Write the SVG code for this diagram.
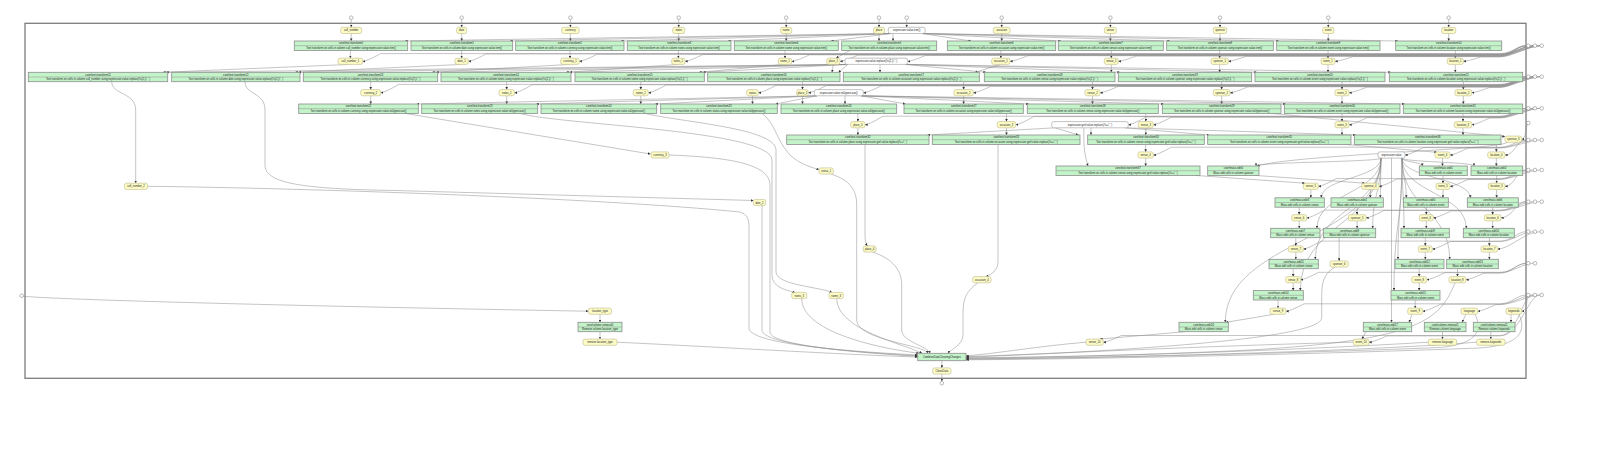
<svg xmlns="http://www.w3.org/2000/svg" width="1613" height="459" viewBox="0 0 1613 459">
<style>
text{font-family:"Liberation Sans",Arial,sans-serif;font-size:2.7px;text-anchor:middle;fill:#1a1a1a}
.b{fill:#c3f3c9;stroke:#8e8e8e;stroke-width:0.8}
.d{stroke:#8e8e8e;stroke-width:0.5;fill:none}
.y{fill:#fdfcc6;stroke:#bdb889;stroke-width:0.6}
.w{fill:#ffffff;stroke:#9a9a9a;stroke-width:0.6}
.c{fill:#fff;stroke:#777;stroke-width:0.5}
.f{fill:none;stroke:#7c7c7c;stroke-width:1.3}
#edges path{fill:none;stroke:#8a8a8a;stroke-width:0.5;marker-end:url(#a)}
</style>
<defs>
<marker id="a" viewBox="0 0 10 10" refX="10" refY="5" markerWidth="2.6" markerHeight="2.6" markerUnits="userSpaceOnUse" orient="auto"><path d="M0 0L10 5L0 10z" fill="#333"/></marker>
</defs>
<rect width="1613" height="459" fill="#fff"/>
<rect class="f" x="25" y="23.3" width="1501" height="355"/>

<g id="edges">
<!-- top ports to inputs -->
<path d="M351.2 19.5V27.3"/><path d="M461.7 19.5V27.3"/><path d="M570.4 19.5V27.3"/><path d="M678.7 19.5V27.3"/><path d="M786.2 19.5V27.3"/><path d="M879 19.5V27.3"/><path d="M906.7 19.5V27.3"/><path d="M1001.7 19.5V27.3"/><path d="M1110.4 19.5V27.3"/><path d="M1220 19.5V27.3"/><path d="M1328.3 19.5V27.3"/><path d="M1448.7 19.5V27.3"/>
<!-- inputs to row1 -->
<path d="M351.2 33.5V41"/><path d="M461.7 33.5V41"/><path d="M570.4 33.5V41"/><path d="M678.7 33.5V41"/><path d="M786.2 33.5V41"/><path d="M879 33.5V41"/><path d="M1001.7 33.5V41"/><path d="M1110.4 33.5V41"/><path d="M1220 33.5V41"/><path d="M1328.3 33.5V41"/><path d="M1448.7 33.5V41"/>
<!-- p_trim to row1 -->
<path d="M891 33.5L405 41"/><path d="M891 33.5L510 41"/><path d="M891 33.5L621 41"/><path d="M891 33.5L728 41"/><path d="M891 33.5L831 41"/><path d="M893 33.5V41"/><path d="M922 33.5L971 41"/><path d="M922 33.5L1061 41"/><path d="M922 33.5L1170 41"/><path d="M922 33.5L1279 41"/><path d="M922 33.5L1398 41"/>
<!-- row1 to data -->
<path d="M350.35 50.4V58.2"/><path d="M461.65 50.4V58.2"/><path d="M570 50.4V58.2"/><path d="M678.35 50.4V58.2"/><path d="M785 50.4V58.2"/><path d="M850 50.4L836 58.2"/><path d="M1000.85 50.4V58.2"/><path d="M1111.3 50.4V58.2"/><path d="M1219.65 50.4V58.2"/><path d="M1328 50.4V58.2"/><path d="M1455.3 50.4V58.2"/>
<!-- data1 to row2 -->
<path d="M350.35 64.4L163 72.3"/><path d="M461.65 64.4L295 72.3"/><path d="M570 64.4L432 72.3"/><path d="M678.35 64.4L566 72.3"/><path d="M785 64.4L699 72.3"/><path d="M833.35 64.4L832 72.3"/><path d="M1000.85 64.4L975 72.3"/><path d="M1111.3 64.4V72.3"/><path d="M1219.65 64.4V72.3"/><path d="M1328 64.4V72.3"/><path d="M1455.3 64.4V72.3"/>
<!-- p_replace to row2 -->
<path d="M848 64.4L166 72.3"/><path d="M848 64.4L298.5 72.3"/><path d="M848 64.4L436 72.3"/><path d="M848 64.4L569.5 72.3"/><path d="M848 64.4L703 72.3"/><path d="M848 64.4L838.5 72.3"/><path d="M880 64.4V72.3"/><path d="M905 64.4L986 72.3"/><path d="M905 64.4L1120 72.3"/><path d="M905 64.4L1257 72.3"/><path d="M905 64.4L1391 72.3"/>
<!-- row2 to data -->
<path d="M111.7 81.7C111.7 95 135.7 92 135.7 110V183.2"/>
<path d="M245 81.7C245 95 265 92 265 110V165C265 183 300 189 395 190.5L753.5 200.5"/>
<path d="M370.7 81.7V89.6"/><path d="M506.7 81.7V89.6"/><path d="M640.8 81.7V89.6"/><path d="M802.5 81.7V89.6"/><path d="M963.65 81.7V89.6"/><path d="M1092.5 81.7V89.6"/><path d="M1221.65 81.7V89.6"/><path d="M1342 81.7V89.6"/><path d="M1463.35 81.7V89.6"/>
<!-- data2 to row3 -->
<path d="M370.7 95.8V104"/><path d="M506.7 95.8V104"/><path d="M640.8 95.8V104"/><path d="M752.5 95.8V104"/><path d="M802.5 95.8V104"/><path d="M963.65 95.8V104"/><path d="M1092.5 95.8V104"/><path d="M1221.65 95.8V104"/><path d="M1342 95.8V104"/><path d="M1463.35 95.8V104"/>
<!-- p_upper to row3 -->
<path d="M817 95.8L416.8 104"/><path d="M817 95.8L536.2 104"/><path d="M817 95.8L655.2 104"/><path d="M817 95.8L775.8 104"/><path d="M845 95.8V104"/><path d="M861 95.8L905.5 104"/><path d="M861 95.8L1028.8 104"/><path d="M861 95.8L1163.8 104"/><path d="M861 95.8L1285.8 104"/><path d="M861 95.8L1404.8 104"/>
<!-- row3 to data -->
<path d="M405 113.4L650.5 154"/>
<path d="M520 113.4C560 125 772 130 772 160V275C772 287 785 290 795 292.4"/>
<path d="M645 113.4C680 122 776 128 776 150V272C776 285 820 287 832 292.4"/>
<path d="M761.7 113.4C775 122 776 140 790 155C800 164 810 167 819 169.5"/>
<path d="M857.85 113.4V121.6"/><path d="M1006.5 113.4V121.6"/><path d="M1145.8 113.4V121.6"/><path d="M1342 113.4V121.6"/><path d="M1463 113.4V121.6"/>
<path d="M1272 113.4L1505 136.6"/>
<!-- data3 to row4 -->
<path d="M857.85 127.8V135"/><path d="M1006.5 127.8V135"/><path d="M1145.8 127.8V135"/><path d="M1342 127.8V135"/><path d="M1463 127.8V135"/>
<!-- p_grel -->
<path d="M1055 127.8L927.5 135"/><path d="M1055 127.8L1078.5 135"/><path d="M1091 127.8V135"/><path d="M1125 127.8L1209.2 135"/><path d="M1125 127.8L1355.8 135"/><path d="M1084 127.8C1083.5 140 1083.5 152 1088 166"/>
<!-- row4 to data -->
<path d="M865 144.4V235Q865 243 867.5 245.9"/>
<path d="M998 144.4V262Q998 272 986 276.6"/>
<path d="M1145.65 144.4V151.9"/>
<path d="M1345 144.4L1437 152.3"/>
<path d="M1496.35 144.4V151.9"/>
<!-- to M1 -->
<path d="M1145.65 158.1V166"/>
<path d="M1507 142.3C1500 150 1300 154 1257 166"/>
<path d="M1442.5 158.1V166"/><path d="M1496.35 158.1V166"/>
<!-- p_value to mass edits -->
<path d="M1381 158.1C1381 162 1256 162 1256 166"/>
<path d="M1402 158.1C1402 162 1422.3 162 1422.3 166"/>
<path d="M1402 158.1C1402 162 1474 162 1474 166"/>
<path d="M1381 158.1C1381 178 1321.3 178 1321.3 197.8"/>
<path d="M1381 158.1C1381 178 1380.3 178 1380.3 197.8"/>
<path d="M1402 158.1C1402 178 1406.3 178 1406.3 197.8"/>
<path d="M1402 158.1C1402 178 1470.3 178 1470.3 197.8"/>
<path d="M1381 158.1C1381 193 1317 193 1317 228.3"/>
<path d="M1381 158.1C1381 193 1372.7 193 1372.7 228.3"/>
<path d="M1402 158.1C1402 193 1404 193 1404 228.3"/>
<path d="M1402 158.1C1402 193 1466.3 193 1466.3 228.3"/>
<path d="M1381 158.1C1381 209 1315.3 209 1315.3 259.3"/>
<path d="M1402 158.1C1402 209 1398 209 1398 259.3"/>
<path d="M1402 158.1C1402 209 1449.7 209 1449.7 259.3"/>
<path d="M1381 158.1C1381 224 1300.3 224 1300.3 290.6"/>
<path d="M1402 158.1C1402 224 1394 224 1394 290.6"/>
<path d="M1381 158.1C1381 240 1225.3 240 1225.3 322.3"/>
<path d="M1391.5 158.1C1391.5 240 1391.5 240 1391.5 322.3"/>
<!-- M1 to data -->
<path d="M1195 175.4L1305 183.2"/><path d="M1255 175.4L1365 183.2"/><path d="M1443 175.4V183.2"/><path d="M1496.65 175.4V183.2"/>
<!-- to M2 -->
<path d="M1310.8 189.4V197.8"/><path d="M1370.35 189.4V197.8"/><path d="M1443 189.4V197.8"/><path d="M1496.65 189.4V197.8"/>
<!-- M2 to data -->
<path d="M1299.2 207.2V214.7"/><path d="M1357.15 207.2V214.7"/><path d="M1426.3 207.2V214.7"/><path d="M1492.65 207.2V214.7"/>
<!-- to M3 -->
<path d="M1299.2 220.9V228.3"/><path d="M1357.15 220.9V228.3"/><path d="M1426.3 220.9V228.3"/><path d="M1492.65 220.9V228.3"/>
<!-- M3 to data -->
<path d="M1295.8 237.7V245.9"/><path d="M1339.15 237.7V260.9"/><path d="M1425.3 237.7V245.9"/><path d="M1489.35 237.7V245.9"/>
<!-- to M4 -->
<path d="M1295.8 252.1V259.3"/><path d="M1425.3 252.1V259.3"/><path d="M1489.35 252.1V259.3"/>
<!-- M4 to data -->
<path d="M1293.2 268.7V276.6"/><path d="M1419.2 268.7V276.6"/><path d="M1457.5 268.7V276.6"/>
<!-- to M5 -->
<path d="M1293.2 282.8V290.6"/><path d="M1419.2 282.8V290.6"/>
<!-- M5 to data -->
<path d="M1278 300V308.1"/><path d="M1415.2 300V308.1"/>
<!-- to M6 -->
<path d="M23.3 296.3C80 301 400 308 588.3 311.2"/>
<path d="M600 314.3V322.3"/>
<path d="M1274 314.3L1226 322.3"/><path d="M1412 314.3L1409 322.3"/><path d="M1466 314.3L1462 322.3"/><path d="M1511 314.3V322.3"/>
<!-- M6 to data -->
<path d="M600 331.7V339.1"/><path d="M1185 331.7L1100 339.1"/><path d="M1366 331.7L1362 339.1"/><path d="M1442.5 331.7V339.1"/><path d="M1490.85 331.7V339.1"/>
<!-- to final -->
<path d="M147.5 186.3C300 188 600 198 740 212Q749 214 749 226V328C749 345 860 352 917.7 355"/>
<path d="M762 205.6V330C762 346 870 353 917.7 355.7"/>
<path d="M669 155C720 157 770 162 770 185V332C770 347 880 354 917.7 356.3"/>
<path d="M617 342.2C700 346 850 355 917.7 357"/>
<path d="M801.7 298.6C801.7 330 870 347 919 353.3"/>
<path d="M836.7 298.6C836.7 330 905 344 922 353.3"/>
<path d="M831 174.1C850 180 856.7 190 856.7 205V320C856.7 340 925 345 928 353.3"/>
<path d="M873 252.1C890 258 901.7 268 901.7 285V330C901.7 342 928 346 930 353.3"/>
<path d="M978 282.8C965 292 963 300 963 315V335C963 345 950 350 948 353.3"/>
<path d="M1086 342.2C1040 346 1000 353 966 356"/>
<path d="M1353.3 342.2C1200 346 1050 354 966 356.6"/>
<path d="M1335 267.1C1322 275 1321.7 285 1321.7 300V318C1321.7 340 1100 352 966 357.2"/>
<path d="M1455 282.8C1440 320 1420 340 1250 350C1150 355 1050 357 966 357.8"/>
<path d="M1428.3 342.2C1300 350 1100 357 966 358.3"/>
<path d="M1476.7 342.2C1350 352 1100 358 966 358.8"/>
<path d="M1475 314.3C1482 328 1480 344 1440 347.5C1300 353 1100 358 966 359.3"/>
<path d="M1519 314.3C1526 330 1522 345 1480 348C1320 354 1100 359 966 359.8"/>
<path d="M941.85 360.7V367.9"/>
<path d="M941.85 374.1V381.3"/>
<!-- right ports band A -->
<path d="M1526.5 45.7C1516.5 45.7 1512 53.6 1500 53.6H380.7Q366.7 61.3 362.7 61.3"/>
<path d="M1533.2 45.7C1523 45.7 1512 53.9 1500 53.9H486.3Q472.3 61.3 468.3 61.3"/>
<path d="M1539.9 45.7C1530 45.7 1512 54.2 1500 54.2H597.3Q583.3 61.3 579.3 61.3"/>
<path d="M1526.5 45.7C1516.5 45.7 1512 54.5 1500 54.5H703Q689 61.3 685 61.3"/>
<path d="M1533.2 45.7C1523 45.7 1512 54.8 1500 54.8H809.7Q795.7 61.3 791.7 61.3"/>
<path d="M1539.9 45.7C1530 45.7 1512 55.1 1500 55.1H858Q844 61.3 840 61.3"/>
<path d="M1526.5 45.7C1516.5 45.7 1512 55.4 1500 55.4H925.7Q911.7 61.3 907.7 61.3"/>
<path d="M1533.2 45.7C1523 45.7 1512 55.7 1500 55.7H1028Q1014 61.3 1010 61.3"/>
<path d="M1539.9 45.7C1530 45.7 1512 56 1500 56H1136.3Q1122.3 61.3 1118.3 61.3"/>
<path d="M1526.5 45.7C1516.5 45.7 1512 56.3 1500 56.3H1246.3Q1232.3 61.3 1228.3 61.3"/>
<path d="M1533.2 45.7C1523 45.7 1512 56.6 1500 56.6H1353Q1339 61.3 1335 61.3"/>
<path d="M1539.9 45.7C1530 45.7 1512 56.9 1500 56.9H1481.3Q1467.3 61.3 1463.3 61.3"/>
<!-- band B -->
<path d="M1526.5 76.7C1516.5 76.7 1512 84.4 1500 84.4H398.7Q384.7 92.7 380.7 92.7"/>
<path d="M1533.2 76.7C1523 76.7 1512 84.7 1500 84.7H532.4Q518.4 92.7 514.4 92.7"/>
<path d="M1539.9 76.7C1530 76.7 1512 85 1500 85H666.3Q652.3 92.7 648.3 92.7"/>
<path d="M1526.5 76.7C1516.5 76.7 1512 85.3 1500 85.3H776.3Q762.3 92.7 758.3 92.7"/>
<path d="M1533.2 76.7C1523 76.7 1512 85.6 1500 85.6H826.3Q812.3 92.7 808.3 92.7"/>
<path d="M1539.9 76.7C1530 76.7 1512 85.9 1500 85.9H881.3Q867.3 92.7 863.3 92.7"/>
<path d="M1526.5 76.7C1516.5 76.7 1512 86.2 1500 86.2H991.3Q977.3 92.7 973.3 92.7"/>
<path d="M1533.2 76.7C1523 76.7 1512 86.5 1500 86.5H1118Q1104 92.7 1100 92.7"/>
<path d="M1539.9 76.7C1530 76.7 1512 86.8 1500 86.8H1248Q1234 92.7 1230 92.7"/>
<path d="M1526.5 76.7C1516.5 76.7 1512 87.1 1500 87.1H1367Q1353 92.7 1349 92.7"/>
<path d="M1533.2 76.7C1523 76.7 1512 87.4 1500 87.4H1489.7Q1475.7 92.7 1471.7 92.7"/>
<!-- band C -->
<path d="M1526.5 108.3C1516.5 108.3 1512 116.2 1500 116.2H883Q869 124.7 865 124.7"/>
<path d="M1533.2 108.3C1523 108.3 1512 116.55 1500 116.55H1033.7Q1019.7 124.7 1015.7 124.7"/>
<path d="M1539.9 108.3C1530 108.3 1512 116.9 1500 116.9H1146.3Q1132.3 124.7 1128.3 124.7"/>
<path d="M1526.5 108.3C1516.5 108.3 1512 117.25 1500 117.25H1171.3Q1157.3 124.7 1153.3 124.7"/>
<path d="M1533.2 108.3C1523 108.3 1512 117.6 1500 117.6H1367Q1353 124.7 1349 124.7"/>
<path d="M1539.9 108.3C1530 108.3 1512 117.95 1500 117.95H1489.7Q1475.7 124.7 1471.7 124.7"/>
<!-- band D -->
<path d="M1527 124.6Q1525.5 139.2 1521.7 139.2"/>
<!-- band E -->
<path d="M1526.5 140C1516.5 140 1512 147.2 1500 147.2H1171.3Q1157.3 155 1153.3 155"/>
<path d="M1533.2 140C1523 140 1512 147.6 1500 147.6H1423Q1409 155 1405 155"/>
<path d="M1539.9 140C1530 140 1512 148 1500 148H1468Q1454 155 1450 155"/>
<path d="M1526.5 140C1516 140 1515 155 1505 155"/>
<!-- band F -->
<path d="M1526.5 170C1516.5 170 1512 178.6 1500 178.6H1336.3Q1322.3 186.3 1318.3 186.3"/>
<path d="M1533.2 170C1523 170 1512 179 1500 179H1397Q1383 186.3 1379 186.3"/>
<path d="M1539.9 170C1530 170 1512 179.4 1500 179.4H1468Q1454 186.3 1450 186.3"/>
<path d="M1526.5 170C1516 170 1515 186.3 1505 186.3"/>
<!-- band G -->
<path d="M1526.5 201.7C1516.5 201.7 1512 210.1 1500 210.1H1324.7Q1310.7 217.8 1306.7 217.8"/>
<path d="M1533.2 201.7C1523 201.7 1512 210.5 1500 210.5H1384Q1370 217.8 1366 217.8"/>
<path d="M1539.9 201.7C1530 201.7 1512 210.9 1500 210.9H1451.3Q1437.3 217.8 1433.3 217.8"/>
<path d="M1526.5 201.7C1516 201.7 1512 217.8 1501 217.8"/>
<!-- band H -->
<path d="M1526.5 231.7C1516.5 231.7 1512 241.1 1500 241.1H1321.3Q1307.3 249 1303.3 249"/>
<path d="M1533.2 231.7C1523 231.7 1512 241.5 1500 241.5H1450.3Q1436.3 249 1432.3 249"/>
<path d="M1539.9 231.7C1525 231.7 1510 249 1497.7 249"/>
<!-- band I -->
<path d="M1526.5 263.3C1516.5 263.3 1512 272.3 1500 272.3H1318.7Q1304.7 279.7 1300.7 279.7"/>
<path d="M1533.2 263.3C1523 263.3 1512 272.7 1500 272.7H1444.7Q1430.7 279.7 1426.7 279.7"/>
<path d="M1526.5 263.3C1516.5 263.3 1512 273.1 1500 273.1H1484Q1470 279.7 1466 279.7"/>
<!-- band J -->
<path d="M1526.5 295C1516.5 295 1512 303.8 1500 303.8H1304Q1290 311.2 1286 311.2"/>
<path d="M1533.2 295C1523 295 1512 304.2 1500 304.2H1440.7Q1426.7 311.2 1422.7 311.2"/>
<path d="M1539.9 295C1530 295 1512 304.6 1500 304.6H1495.7Q1481.7 311.2 1477.7 311.2"/>
<path d="M1527 296.7C1527 305 1526 311.2 1521.7 311.2"/>
<path d="M1533.2 295C1522 295 1518 335.5 1500 335.5H1121.3Q1107.3 342.2 1103.3 342.2"/>
<path d="M1539.9 295C1528 295 1520 335.9 1500 335.9H1387Q1373 342.2 1369 342.2"/>
</g>

<g id="ports">
<circle class="c" cx="351.2" cy="17.7" r="1.8"/><circle class="c" cx="461.7" cy="17.7" r="1.8"/><circle class="c" cx="570.4" cy="17.7" r="1.8"/><circle class="c" cx="678.7" cy="17.7" r="1.8"/><circle class="c" cx="786.2" cy="17.7" r="1.8"/><circle class="c" cx="879" cy="17.7" r="1.8"/><circle class="c" cx="906.7" cy="17.7" r="1.8"/><circle class="c" cx="1001.7" cy="17.7" r="1.8"/><circle class="c" cx="1110.4" cy="17.7" r="1.8"/><circle class="c" cx="1220" cy="17.7" r="1.8"/><circle class="c" cx="1328.3" cy="17.7" r="1.8"/><circle class="c" cx="1448.7" cy="17.7" r="1.8"/>
<circle class="c" cx="21.7" cy="295.7" r="1.8"/>
<circle class="c" cx="941.85" cy="383.2" r="1.8"/>
<circle class="c" cx="1528.3" cy="45.7" r="1.8"/><circle class="c" cx="1535" cy="45.7" r="1.8"/><circle class="c" cx="1541.7" cy="45.7" r="1.8"/>
<circle class="c" cx="1528.3" cy="76.7" r="1.8"/><circle class="c" cx="1535" cy="76.7" r="1.8"/><circle class="c" cx="1541.7" cy="76.7" r="1.8"/>
<circle class="c" cx="1528.3" cy="108.3" r="1.8"/><circle class="c" cx="1535" cy="108.3" r="1.8"/><circle class="c" cx="1541.7" cy="108.3" r="1.8"/>
<circle class="c" cx="1528.3" cy="123" r="1.8"/>
<circle class="c" cx="1528.3" cy="140" r="1.8"/><circle class="c" cx="1535" cy="140" r="1.8"/><circle class="c" cx="1541.7" cy="140" r="1.8"/>
<circle class="c" cx="1528.3" cy="170" r="1.8"/><circle class="c" cx="1535" cy="170" r="1.8"/><circle class="c" cx="1541.7" cy="170" r="1.8"/>
<circle class="c" cx="1528.3" cy="201.7" r="1.8"/><circle class="c" cx="1535" cy="201.7" r="1.8"/><circle class="c" cx="1541.7" cy="201.7" r="1.8"/>
<circle class="c" cx="1528.3" cy="231.7" r="1.8"/><circle class="c" cx="1535" cy="231.7" r="1.8"/><circle class="c" cx="1541.7" cy="231.7" r="1.8"/>
<circle class="c" cx="1528.3" cy="263.3" r="1.8"/><circle class="c" cx="1535" cy="263.3" r="1.8"/>
<circle class="c" cx="1528.3" cy="295" r="1.8"/><circle class="c" cx="1535" cy="295" r="1.8"/><circle class="c" cx="1541.7" cy="295" r="1.8"/>
</g>

<g id="nodes">
<!-- inputs -->
<g id="in_call_number"><rect class="y" x="340.7" y="27.3" width="21" height="6.2" rx="2"/><text x="351.2" y="31.4">call_number</text></g>
<g id="in_date"><rect class="y" x="456.7" y="27.3" width="10" height="6.2" rx="2"/><text x="461.7" y="31.4">date</text></g>
<g id="in_currency"><rect class="y" x="561.7" y="27.3" width="17.4" height="6.2" rx="2"/><text x="570.4" y="31.4">currency</text></g>
<g id="in_notes"><rect class="y" x="672.7" y="27.3" width="12" height="6.2" rx="2"/><text x="678.7" y="31.4">notes</text></g>
<g id="in_name"><rect class="y" x="780.7" y="27.3" width="11" height="6.2" rx="2"/><text x="786.2" y="31.4">name</text></g>
<g id="in_place"><rect class="y" x="873.5" y="27.3" width="11" height="6.2" rx="2"/><text x="879" y="31.4">place</text></g>
<g id="p_trim"><rect class="w" x="888.3" y="27.3" width="36.8" height="6.2" rx="2"/><text x="906.7" y="31.4">expression:value.trim()</text></g>
<g id="in_occasion"><rect class="y" x="993.3" y="27.3" width="16.8" height="6.2" rx="2"/><text x="1001.7" y="31.4">occasion</text></g>
<g id="in_venue"><rect class="y" x="1104.4" y="27.3" width="12" height="6.2" rx="2"/><text x="1110.4" y="31.4">venue</text></g>
<g id="in_sponsor"><rect class="y" x="1213.3" y="27.3" width="13.4" height="6.2" rx="2"/><text x="1220" y="31.4">sponsor</text></g>
<g id="in_event"><rect class="y" x="1322.7" y="27.3" width="11.2" height="6.2" rx="2"/><text x="1328.3" y="31.4">event</text></g>
<g id="in_location"><rect class="y" x="1441.7" y="27.3" width="14" height="6.2" rx="2"/><text x="1448.7" y="31.4">location</text></g>

<!-- row1 boxes -->
<g id="t0"><rect class="b" x="294.3" y="41" width="113.4" height="9.4"/><path class="d" d="M294.3 45.7h113.4"/><text x="351" y="44.45">core/text-transform0</text><text x="351" y="49.15">Text transform on cells in column call_number using expression value.trim()</text></g>
<g id="t1"><rect class="b" x="411" y="41" width="101.7" height="9.4"/><path class="d" d="M411 45.7h101.7"/><text x="461.85" y="44.45">core/text-transform1</text><text x="461.85" y="49.15">Text transform on cells in column date using expression value.trim()</text></g>
<g id="t2"><rect class="b" x="515.7" y="41" width="108.3" height="9.4"/><path class="d" d="M515.7 45.7h108.3"/><text x="569.85" y="44.45">core/text-transform2</text><text x="569.85" y="49.15">Text transform on cells in column currency using expression value.trim()</text></g>
<g id="t3"><rect class="b" x="627.3" y="41" width="103.7" height="9.4"/><path class="d" d="M627.3 45.7h103.7"/><text x="679.15" y="44.45">core/text-transform3</text><text x="679.15" y="49.15">Text transform on cells in column notes using expression value.trim()</text></g>
<g id="t4"><rect class="b" x="734.3" y="41" width="104" height="9.4"/><path class="d" d="M734.3 45.7h104"/><text x="786.3" y="44.45">core/text-transform4</text><text x="786.3" y="49.15">Text transform on cells in column name using expression value.trim()</text></g>
<g id="t5"><rect class="b" x="841.7" y="41" width="95" height="9.4"/><path class="d" d="M841.7 45.7h95"/><text x="889.2" y="44.45">core/text-transform5</text><text x="889.2" y="49.15">Text transform on cells in column place using expression value.trim()</text></g>
<g id="t6"><rect class="b" x="947.3" y="41" width="108.4" height="9.4"/><path class="d" d="M947.3 45.7h108.4"/><text x="1001.5" y="44.45">core/text-transform6</text><text x="1001.5" y="49.15">Text transform on cells in column occasion using expression value.trim()</text></g>
<g id="t7"><rect class="b" x="1058.3" y="41" width="105" height="9.4"/><path class="d" d="M1058.3 45.7h105"/><text x="1110.8" y="44.45">core/text-transform7</text><text x="1110.8" y="49.15">Text transform on cells in column venue using expression value.trim()</text></g>
<g id="t8"><rect class="b" x="1166.7" y="41" width="106.6" height="9.4"/><path class="d" d="M1166.7 45.7h106.6"/><text x="1220" y="44.45">core/text-transform8</text><text x="1220" y="49.15">Text transform on cells in column sponsor using expression value.trim()</text></g>
<g id="t9"><rect class="b" x="1276.7" y="41" width="103.3" height="9.4"/><path class="d" d="M1276.7 45.7h103.3"/><text x="1328.35" y="44.45">core/text-transform9</text><text x="1328.35" y="49.15">Text transform on cells in column event using expression value.trim()</text></g>
<g id="t10"><rect class="b" x="1395.7" y="41" width="106" height="9.4"/><path class="d" d="M1395.7 45.7h106"/><text x="1448.7" y="44.45">core/text-transform10</text><text x="1448.7" y="49.15">Text transform on cells in column location using expression value.trim()</text></g>

<!-- row1 data -->
<g id="call_number_1"><rect class="y" x="338" y="58.2" width="24.7" height="6.2" rx="2"/><text x="350.35" y="62.3">call_number_1</text></g>
<g id="date_1"><rect class="y" x="455" y="58.2" width="13.3" height="6.2" rx="2"/><text x="461.65" y="62.3">date_1</text></g>
<g id="currency_1"><rect class="y" x="560.7" y="58.2" width="18.6" height="6.2" rx="2"/><text x="570" y="62.3">currency_1</text></g>
<g id="notes_1"><rect class="y" x="671.7" y="58.2" width="13.3" height="6.2" rx="2"/><text x="678.35" y="62.3">notes_1</text></g>
<g id="name_1"><rect class="y" x="778.3" y="58.2" width="13.4" height="6.2" rx="2"/><text x="785" y="62.3">name_1</text></g>
<g id="place_1"><rect class="y" x="826.7" y="58.2" width="13.3" height="6.2" rx="2"/><text x="833.35" y="62.3">place_1</text></g>
<g id="p_replace"><rect class="w" x="845" y="58.2" width="62.7" height="6.2" rx="2"/><text x="876.35" y="62.3">expression:value.replace(/\s{2,}/,' ')</text></g>
<g id="occasion_1"><rect class="y" x="991.7" y="58.2" width="18.3" height="6.2" rx="2"/><text x="1000.85" y="62.3">occasion_1</text></g>
<g id="venue_1"><rect class="y" x="1104.3" y="58.2" width="14" height="6.2" rx="2"/><text x="1111.3" y="62.3">venue_1</text></g>
<g id="sponsor_1"><rect class="y" x="1211" y="58.2" width="17.3" height="6.2" rx="2"/><text x="1219.65" y="62.3">sponsor_1</text></g>
<g id="event_1"><rect class="y" x="1321" y="58.2" width="14" height="6.2" rx="2"/><text x="1328" y="62.3">event_1</text></g>
<g id="location_1"><rect class="y" x="1447.3" y="58.2" width="16" height="6.2" rx="2"/><text x="1455.3" y="62.3">location_1</text></g>

<!-- row2 boxes -->
<g id="t11"><rect class="b" x="28.3" y="72.3" width="139.4" height="9.4"/><path class="d" d="M28.3 77h139.4"/><text x="98" y="75.75">core/text-transform11</text><text x="98" y="80.45">Text transform on cells in column call_number using expression value.replace(/\s{2,}/,' ')</text></g>
<g id="t12"><rect class="b" x="171.7" y="72.3" width="128.3" height="9.4"/><path class="d" d="M171.7 77h128.3"/><text x="235.85" y="75.75">core/text-transform12</text><text x="235.85" y="80.45">Text transform on cells in column date using expression value.replace(/\s{2,}/,' ')</text></g>
<g id="t13"><rect class="b" x="303.3" y="72.3" width="134.4" height="9.4"/><path class="d" d="M303.3 77h134.4"/><text x="370.5" y="75.75">core/text-transform13</text><text x="370.5" y="80.45">Text transform on cells in column currency using expression value.replace(/\s{2,}/,' ')</text></g>
<g id="t14"><rect class="b" x="441" y="72.3" width="130" height="9.4"/><path class="d" d="M441 77h130"/><text x="506" y="75.75">core/text-transform14</text><text x="506" y="80.45">Text transform on cells in column notes using expression value.replace(/\s{2,}/,' ')</text></g>
<g id="t15"><rect class="b" x="575" y="72.3" width="129.3" height="9.4"/><path class="d" d="M575 77h129.3"/><text x="639.65" y="75.75">core/text-transform15</text><text x="639.65" y="80.45">Text transform on cells in column name using expression value.replace(/\s{2,}/,' ')</text></g>
<g id="t16"><rect class="b" x="707.7" y="72.3" width="132.3" height="9.4"/><path class="d" d="M707.7 77h132.3"/><text x="773.85" y="75.75">core/text-transform16</text><text x="773.85" y="80.45">Text transform on cells in column place using expression value.replace(/\s{2,}/,' ')</text></g>
<g id="t17"><rect class="b" x="843.3" y="72.3" width="136" height="9.4"/><path class="d" d="M843.3 77h136"/><text x="911.3" y="75.75">core/text-transform17</text><text x="911.3" y="80.45">Text transform on cells in column occasion using expression value.replace(/\s{2,}/,' ')</text></g>
<g id="t18"><rect class="b" x="984.3" y="72.3" width="130.7" height="9.4"/><path class="d" d="M984.3 77h130.7"/><text x="1049.65" y="75.75">core/text-transform18</text><text x="1049.65" y="80.45">Text transform on cells in column venue using expression value.replace(/\s{2,}/,' ')</text></g>
<g id="t19"><rect class="b" x="1118.3" y="72.3" width="133.4" height="9.4"/><path class="d" d="M1118.3 77h133.4"/><text x="1185" y="75.75">core/text-transform19</text><text x="1185" y="80.45">Text transform on cells in column sponsor using expression value.replace(/\s{2,}/,' ')</text></g>
<g id="t20"><rect class="b" x="1255" y="72.3" width="130" height="9.4"/><path class="d" d="M1255 77h130"/><text x="1320" y="75.75">core/text-transform20</text><text x="1320" y="80.45">Text transform on cells in column event using expression value.replace(/\s{2,}/,' ')</text></g>
<g id="t21"><rect class="b" x="1389.3" y="72.3" width="133.4" height="9.4"/><path class="d" d="M1389.3 77h133.4"/><text x="1456" y="75.75">core/text-transform21</text><text x="1456" y="80.45">Text transform on cells in column location using expression value.replace(/\s{2,}/,' ')</text></g>

<!-- row2 data -->
<g id="currency_2"><rect class="y" x="360.7" y="89.6" width="20" height="6.2" rx="2"/><text x="370.7" y="93.7">currency_2</text></g>
<g id="notes_2"><rect class="y" x="499" y="89.6" width="15.4" height="6.2" rx="2"/><text x="506.7" y="93.7">notes_2</text></g>
<g id="name_2"><rect class="y" x="633.3" y="89.6" width="15" height="6.2" rx="2"/><text x="640.8" y="93.7">name_2</text></g>
<g id="status"><rect class="y" x="746.7" y="89.6" width="11.6" height="6.2" rx="2"/><text x="752.5" y="93.7">status</text></g>
<g id="place_2"><rect class="y" x="796.7" y="89.6" width="11.6" height="6.2" rx="2"/><text x="802.5" y="93.7">place_2</text></g>
<g id="p_upper"><rect class="w" x="814.3" y="89.6" width="49" height="6.2" rx="2"/><text x="838.8" y="93.7">expression:value.toUppercase()</text></g>
<g id="occasion_2"><rect class="y" x="954" y="89.6" width="19.3" height="6.2" rx="2"/><text x="963.65" y="93.7">occasion_2</text></g>
<g id="venue_2"><rect class="y" x="1085" y="89.6" width="15" height="6.2" rx="2"/><text x="1092.5" y="93.7">venue_2</text></g>
<g id="sponsor_2"><rect class="y" x="1213.3" y="89.6" width="16.7" height="6.2" rx="2"/><text x="1221.65" y="93.7">sponsor_2</text></g>
<g id="event_2"><rect class="y" x="1335" y="89.6" width="14" height="6.2" rx="2"/><text x="1342" y="93.7">event_2</text></g>
<g id="location_2"><rect class="y" x="1455" y="89.6" width="16.7" height="6.2" rx="2"/><text x="1463.35" y="93.7">location_2</text></g>

<!-- row3 boxes -->
<g id="t22"><rect class="b" x="298.7" y="104" width="119.6" height="9.4"/><path class="d" d="M298.7 108.7h119.6"/><text x="358.5" y="107.45">core/text-transform22</text><text x="358.5" y="112.15">Text transform on cells in column currency using expression value.toUppercase()</text></g>
<g id="t23"><rect class="b" x="421.7" y="104" width="116" height="9.4"/><path class="d" d="M421.7 108.7h116"/><text x="479.7" y="107.45">core/text-transform23</text><text x="479.7" y="112.15">Text transform on cells in column notes using expression value.toUppercase()</text></g>
<g id="t24"><rect class="b" x="541" y="104" width="115.7" height="9.4"/><path class="d" d="M541 108.7h115.7"/><text x="598.85" y="107.45">core/text-transform24</text><text x="598.85" y="112.15">Text transform on cells in column name using expression value.toUppercase()</text></g>
<g id="t25"><rect class="b" x="660.7" y="104" width="116.6" height="9.4"/><path class="d" d="M660.7 108.7h116.6"/><text x="719" y="107.45">core/text-transform25</text><text x="719" y="112.15">Text transform on cells in column status using expression value.toUppercase()</text></g>
<g id="t26"><rect class="b" x="781" y="104" width="115.7" height="9.4"/><path class="d" d="M781 108.7h115.7"/><text x="838.85" y="107.45">core/text-transform26</text><text x="838.85" y="112.15">Text transform on cells in column place using expression value.toUppercase()</text></g>
<g id="t27"><rect class="b" x="904" y="104" width="119.3" height="9.4"/><path class="d" d="M904 108.7h119.3"/><text x="963.65" y="107.45">core/text-transform27</text><text x="963.65" y="112.15">Text transform on cells in column occasion using expression value.toUppercase()</text></g>
<g id="t28"><rect class="b" x="1027.3" y="104" width="131" height="9.4"/><path class="d" d="M1027.3 108.7h131"/><text x="1092.8" y="107.45">core/text-transform28</text><text x="1092.8" y="112.15">Text transform on cells in column venue using expression value.toUppercase()</text></g>
<g id="t29"><rect class="b" x="1162.3" y="104" width="118.7" height="9.4"/><path class="d" d="M1162.3 108.7h118.7"/><text x="1221.65" y="107.45">core/text-transform29</text><text x="1221.65" y="112.15">Text transform on cells in column sponsor using expression value.toUppercase()</text></g>
<g id="t30"><rect class="b" x="1284.3" y="104" width="115.7" height="9.4"/><path class="d" d="M1284.3 108.7h115.7"/><text x="1342.15" y="107.45">core/text-transform30</text><text x="1342.15" y="112.15">Text transform on cells in column event using expression value.toUppercase()</text></g>
<g id="t31"><rect class="b" x="1403.3" y="104" width="119.4" height="9.4"/><path class="d" d="M1403.3 108.7h119.4"/><text x="1463" y="107.45">core/text-transform31</text><text x="1463" y="112.15">Text transform on cells in column location using expression value.toUppercase()</text></g>

<!-- row3 data -->
<g id="place_3"><rect class="y" x="850.7" y="121.6" width="14.3" height="6.2" rx="2"/><text x="857.85" y="125.7">place_3</text></g>
<g id="occasion_3"><rect class="y" x="997.3" y="121.6" width="18.4" height="6.2" rx="2"/><text x="1006.5" y="125.7">occasion_3</text></g>
<g id="p_grel"><rect class="w" x="1051.7" y="121.6" width="76.6" height="6.2" rx="2"/><text x="1090" y="125.7">expression:grel:value.replace(/\s+/,' ')</text></g>
<g id="venue_3"><rect class="y" x="1138.3" y="121.6" width="15" height="6.2" rx="2"/><text x="1145.8" y="125.7">venue_3</text></g>
<g id="event_3"><rect class="y" x="1335" y="121.6" width="14" height="6.2" rx="2"/><text x="1342" y="125.7">event_3</text></g>
<g id="location_3"><rect class="y" x="1454.3" y="121.6" width="17.4" height="6.2" rx="2"/><text x="1463" y="125.7">location_3</text></g>
<g id="sponsor_3"><rect class="y" x="1505" y="136.1" width="16.7" height="6.2" rx="2"/><text x="1513.35" y="140.2">sponsor_3</text></g>

<!-- row4 boxes -->
<g id="t32"><rect class="b" x="786.7" y="135" width="142.3" height="9.4"/><path class="d" d="M786.7 139.7h142.3"/><text x="857.85" y="138.45">core/text-transform32</text><text x="857.85" y="143.15">Text transform on cells in column place using expression grel:value.replace(/\s+/,' ')</text></g>
<g id="t33"><rect class="b" x="932.3" y="135" width="147.7" height="9.4"/><path class="d" d="M932.3 139.7h147.7"/><text x="1006.15" y="138.45">core/text-transform33</text><text x="1006.15" y="143.15">Text transform on cells in column occasion using expression grel:value.replace(/\s+/,' ')</text></g>
<g id="t34"><rect class="b" x="1087.7" y="135" width="116.6" height="9.4"/><path class="d" d="M1087.7 139.7h116.6"/><text x="1146" y="138.45">core/text-transform34</text><text x="1146" y="143.15">Text transform on cells in column venue using expression grel:value.replace(/\s+/,' ')</text></g>
<g id="t35"><rect class="b" x="1207.7" y="135" width="143.3" height="9.4"/><path class="d" d="M1207.7 139.7h143.3"/><text x="1279.35" y="138.45">core/text-transform35</text><text x="1279.35" y="143.15">Text transform on cells in column event using expression grel:value.replace(/\s+/,' ')</text></g>
<g id="t36"><rect class="b" x="1354.3" y="135" width="146.7" height="9.4"/><path class="d" d="M1354.3 139.7h146.7"/><text x="1427.65" y="138.45">core/text-transform36</text><text x="1427.65" y="143.15">Text transform on cells in column location using expression grel:value.replace(/\s+/,' ')</text></g>

<!-- row4 data -->
<g id="currency_3"><rect class="y" x="651" y="151.9" width="18" height="6.2" rx="2"/><text x="660" y="156">currency_3</text></g>
<g id="venue_4"><rect class="y" x="1138" y="151.9" width="15.3" height="6.2" rx="2"/><text x="1145.65" y="156">venue_4</text></g>
<g id="p_value"><rect class="w" x="1378" y="151.9" width="27" height="6.2" rx="2"/><text x="1391.5" y="156">expression:value</text></g>
<g id="event_4"><rect class="y" x="1435" y="151.9" width="15" height="6.2" rx="2"/><text x="1442.5" y="156">event_4</text></g>
<g id="location_4"><rect class="y" x="1487.7" y="151.9" width="17.3" height="6.2" rx="2"/><text x="1496.35" y="156">location_4</text></g>

<!-- M1 -->
<g id="t37"><rect class="b" x="1056" y="166" width="144" height="9.4"/><path class="d" d="M1056 170.7h144"/><text x="1128" y="169.45">core/text-transform37</text><text x="1128" y="174.15">Text transform on cells in column venue using expression grel:value.replace(/\s+/,' ')</text></g>
<g id="status_1"><rect class="y" x="819" y="167.9" width="14.3" height="6.2" rx="2"/><text x="826.15" y="172">status_1</text></g>
<g id="m0"><rect class="b" x="1207.7" y="166" width="51.3" height="9.4"/><path class="d" d="M1207.7 170.7h51.3"/><text x="1233.35" y="169.45">core/mass-edit0</text><text x="1233.35" y="174.15">Mass edit cells in column sponsor</text></g>
<g id="m1"><rect class="b" x="1419.3" y="166" width="48" height="9.4"/><path class="d" d="M1419.3 170.7h48"/><text x="1443.3" y="169.45">core/mass-edit1</text><text x="1443.3" y="174.15">Mass edit cells in column event</text></g>
<g id="m2"><rect class="b" x="1471" y="166" width="51.7" height="9.4"/><path class="d" d="M1471 170.7h51.7"/><text x="1496.85" y="169.45">core/mass-edit2</text><text x="1496.85" y="174.15">Mass edit cells in column location</text></g>

<g id="call_number_2"><rect class="y" x="124.5" y="183.2" width="23" height="6.2" rx="2"/><text x="136" y="187.3">call_number_2</text></g>
<g id="venue_5"><rect class="y" x="1303.3" y="183.2" width="15" height="6.2" rx="2"/><text x="1310.8" y="187.3">venue_5</text></g>
<g id="sponsor_4"><rect class="y" x="1361.7" y="183.2" width="17.3" height="6.2" rx="2"/><text x="1370.35" y="187.3">sponsor_4</text></g>
<g id="event_5"><rect class="y" x="1436" y="183.2" width="14" height="6.2" rx="2"/><text x="1443" y="187.3">event_5</text></g>
<g id="location_5"><rect class="y" x="1488.3" y="183.2" width="16.7" height="6.2" rx="2"/><text x="1496.65" y="187.3">location_5</text></g>

<!-- M2 -->
<g id="date_2"><rect class="y" x="753.3" y="199.4" width="12.4" height="6.2" rx="2"/><text x="759.5" y="203.5">date_2</text></g>
<g id="m3"><rect class="b" x="1275" y="197.8" width="49.3" height="9.4"/><path class="d" d="M1275 202.5h49.3"/><text x="1299.65" y="201.25">core/mass-edit3</text><text x="1299.65" y="205.95">Mass edit cells in column venue</text></g>
<g id="m4"><rect class="b" x="1331" y="197.8" width="52.3" height="9.4"/><path class="d" d="M1331 202.5h52.3"/><text x="1357.15" y="201.25">core/mass-edit4</text><text x="1357.15" y="205.95">Mass edit cells in column sponsor</text></g>
<g id="m5"><rect class="b" x="1403.3" y="197.8" width="45" height="9.4"/><path class="d" d="M1403.3 202.5h45"/><text x="1425.8" y="201.25">core/mass-edit5</text><text x="1425.8" y="205.95">Mass edit cells in column event</text></g>
<g id="m6"><rect class="b" x="1467.3" y="197.8" width="51" height="9.4"/><path class="d" d="M1467.3 202.5h51"/><text x="1492.8" y="201.25">core/mass-edit6</text><text x="1492.8" y="205.95">Mass edit cells in column location</text></g>

<g id="venue_6"><rect class="y" x="1291.7" y="214.7" width="15" height="6.2" rx="2"/><text x="1299.2" y="218.8">venue_6</text></g>
<g id="sponsor_5"><rect class="y" x="1348.3" y="214.7" width="17.7" height="6.2" rx="2"/><text x="1357.15" y="218.8">sponsor_5</text></g>
<g id="event_6"><rect class="y" x="1419.3" y="214.7" width="14" height="6.2" rx="2"/><text x="1426.3" y="218.8">event_6</text></g>
<g id="location_6"><rect class="y" x="1484.3" y="214.7" width="16.7" height="6.2" rx="2"/><text x="1492.65" y="218.8">location_6</text></g>

<!-- M3 -->
<g id="m7"><rect class="b" x="1270.7" y="228.3" width="49.3" height="9.4"/><path class="d" d="M1270.7 233h49.3"/><text x="1295.35" y="231.75">core/mass-edit7</text><text x="1295.35" y="236.45">Mass edit cells in column venue</text></g>
<g id="m8"><rect class="b" x="1323.3" y="228.3" width="52.4" height="9.4"/><path class="d" d="M1323.3 233h52.4"/><text x="1349.5" y="231.75">core/mass-edit8</text><text x="1349.5" y="236.45">Mass edit cells in column sponsor</text></g>
<g id="m9"><rect class="b" x="1401" y="228.3" width="48.3" height="9.4"/><path class="d" d="M1401 233h48.3"/><text x="1425.15" y="231.75">core/mass-edit9</text><text x="1425.15" y="236.45">Mass edit cells in column event</text></g>
<g id="m10"><rect class="b" x="1463.3" y="228.3" width="51" height="9.4"/><path class="d" d="M1463.3 233h51"/><text x="1488.8" y="231.75">core/mass-edit10</text><text x="1488.8" y="236.45">Mass edit cells in column location</text></g>

<g id="place_4"><rect class="y" x="863.3" y="245.9" width="12.7" height="6.2" rx="2"/><text x="869.65" y="250">place_4</text></g>
<g id="venue_7"><rect class="y" x="1288.3" y="245.9" width="15" height="6.2" rx="2"/><text x="1295.8" y="250">venue_7</text></g>
<g id="event_7"><rect class="y" x="1418.3" y="245.9" width="14" height="6.2" rx="2"/><text x="1425.3" y="250">event_7</text></g>
<g id="location_7"><rect class="y" x="1481" y="245.9" width="16.7" height="6.2" rx="2"/><text x="1489.35" y="250">location_7</text></g>

<!-- M4 -->
<g id="sponsor_6"><rect class="y" x="1330" y="260.9" width="18.3" height="6.2" rx="2"/><text x="1339.15" y="265">sponsor_6</text></g>
<g id="m11"><rect class="b" x="1269" y="259.3" width="49.3" height="9.4"/><path class="d" d="M1269 264h49.3"/><text x="1293.65" y="262.75">core/mass-edit11</text><text x="1293.65" y="267.45">Mass edit cells in column venue</text></g>
<g id="m12"><rect class="b" x="1395" y="259.3" width="49" height="9.4"/><path class="d" d="M1395 264h49"/><text x="1419.5" y="262.75">core/mass-edit12</text><text x="1419.5" y="267.45">Mass edit cells in column event</text></g>
<g id="m13"><rect class="b" x="1446.7" y="259.3" width="51.6" height="9.4"/><path class="d" d="M1446.7 264h51.6"/><text x="1472.5" y="262.75">core/mass-edit13</text><text x="1472.5" y="267.45">Mass edit cells in column location</text></g>

<g id="occasion_4"><rect class="y" x="972.7" y="276.6" width="18.3" height="6.2" rx="2"/><text x="981.85" y="280.7">occasion_4</text></g>
<g id="venue_8"><rect class="y" x="1285.7" y="276.6" width="15" height="6.2" rx="2"/><text x="1293.2" y="280.7">venue_8</text></g>
<g id="event_8"><rect class="y" x="1411.7" y="276.6" width="15" height="6.2" rx="2"/><text x="1419.2" y="280.7">event_8</text></g>
<g id="location_8"><rect class="y" x="1449" y="276.6" width="17" height="6.2" rx="2"/><text x="1457.5" y="280.7">location_8</text></g>

<!-- M5 -->
<g id="notes_3"><rect class="y" x="791.7" y="292.4" width="15" height="6.2" rx="2"/><text x="799.2" y="296.5">notes_3</text></g>
<g id="name_3"><rect class="y" x="829" y="292.4" width="14.3" height="6.2" rx="2"/><text x="836.15" y="296.5">name_3</text></g>
<g id="m14"><rect class="b" x="1253.3" y="290.6" width="50" height="9.4"/><path class="d" d="M1253.3 295.3h50"/><text x="1278.3" y="294.05">core/mass-edit14</text><text x="1278.3" y="298.75">Mass edit cells in column venue</text></g>
<g id="m15"><rect class="b" x="1391" y="290.6" width="49" height="9.4"/><path class="d" d="M1391 295.3h49"/><text x="1415.5" y="294.05">core/mass-edit15</text><text x="1415.5" y="298.75">Mass edit cells in column event</text></g>

<g id="location_type"><rect class="y" x="588.5" y="308.1" width="23" height="6.2" rx="2"/><text x="600" y="312.2">location_type</text></g>
<g id="venue_9"><rect class="y" x="1270" y="308.1" width="16" height="6.2" rx="2"/><text x="1278" y="312.2">venue_9</text></g>
<g id="event_9"><rect class="y" x="1407.7" y="308.1" width="15" height="6.2" rx="2"/><text x="1415.2" y="312.2">event_9</text></g>
<g id="language"><rect class="y" x="1461" y="308.1" width="16.7" height="6.2" rx="2"/><text x="1469.35" y="312.2">language</text></g>
<g id="keywords"><rect class="y" x="1506" y="308.1" width="15.7" height="6.2" rx="2"/><text x="1513.85" y="312.2">keywords</text></g>

<!-- M6 -->
<g id="r0"><rect class="b" x="578" y="322.3" width="44" height="9.4"/><path class="d" d="M578 327h44"/><text x="600" y="325.75">core/column-removal0</text><text x="600" y="330.45">Remove column location_type</text></g>
<g id="m16"><rect class="b" x="1179" y="322.3" width="49.3" height="9.4"/><path class="d" d="M1179 327h49.3"/><text x="1203.65" y="325.75">core/mass-edit16</text><text x="1203.65" y="330.45">Mass edit cells in column venue</text></g>
<g id="m17"><rect class="b" x="1363.3" y="322.3" width="48.4" height="9.4"/><path class="d" d="M1363.3 327h48.4"/><text x="1387.5" y="325.75">core/mass-edit17</text><text x="1387.5" y="330.45">Mass edit cells in column event</text></g>
<g id="r1"><rect class="b" x="1424.3" y="322.3" width="41.7" height="9.4"/><path class="d" d="M1424.3 327h41.7"/><text x="1445.15" y="325.75">core/column-removal1</text><text x="1445.15" y="330.45">Remove column language</text></g>
<g id="r2"><rect class="b" x="1473.3" y="322.3" width="41.7" height="9.4"/><path class="d" d="M1473.3 327h41.7"/><text x="1494.15" y="325.75">core/column-removal2</text><text x="1494.15" y="330.45">Remove column keywords</text></g>

<g id="remove-location_type"><rect class="y" x="583" y="339.1" width="34" height="6.2" rx="2"/><text x="600" y="343.2">remove-location_type</text></g>
<g id="venue_10"><rect class="y" x="1086" y="339.1" width="17.3" height="6.2" rx="2"/><text x="1094.65" y="343.2">venue_10</text></g>
<g id="event_10"><rect class="y" x="1353.3" y="339.1" width="15.7" height="6.2" rx="2"/><text x="1361.15" y="343.2">event_10</text></g>
<g id="remove-language"><rect class="y" x="1428.3" y="339.1" width="28.4" height="6.2" rx="2"/><text x="1442.5" y="343.2">remove-language</text></g>
<g id="remove-keywords"><rect class="y" x="1476.7" y="339.1" width="28.3" height="6.2" rx="2"/><text x="1490.85" y="343.2">remove-keywords</text></g>

<g id="final"><rect class="b" x="917.7" y="353.3" width="48.3" height="7.4"/><text x="941.85" y="358">CombineDataCleaningChanges</text></g>
<g id="CleanData"><rect class="y" x="932.7" y="367.9" width="18.3" height="6.2" rx="2"/><text x="941.85" y="372">CleanData</text></g>
</g>
</svg>
